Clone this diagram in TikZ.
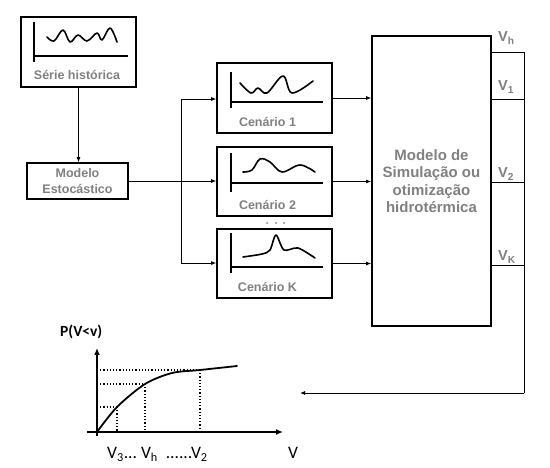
\documentclass[tikz,border=0pt]{standalone}
\usepackage{fontspec}
\setmainfont{Liberation Sans}
\newfontfamily\calfont{Carlito}
\usetikzlibrary{arrows.meta}
\definecolor{txt}{HTML}{808080}
\begin{document}
\begin{tikzpicture}[x=1pt,y=-1pt,
  box/.style={draw, line width=1.7pt, rectangle, inner sep=0pt},
  lbl/.style={text=txt, font=\fontsize{12.5}{16}\selectfont\bfseries, align=center, inner sep=0pt},
  vlbl/.style={text=txt, font=\fontsize{14.5}{16}\selectfont\bfseries, anchor=base west, inner sep=0pt},
  conn/.style={line width=0.8pt},
  arr/.style={conn, -{Latex[length=5pt,width=4pt]}},
  wave/.style={line width=1.6pt, line cap=round, line join=round},
  ax/.style={line width=1.6pt},
  axarr/.style={ax, -{Latex[length=7pt,width=6pt]}},
  dot/.style={line width=1.2pt, dotted}
]
\useasboundingbox (0,0) rectangle (550,468);

% Serie historica
\node[box, minimum width=115pt, minimum height=70pt] (serie) at (78.5,52) {};
\draw[ax] (34,22) -- (34,62);
\draw[ax] (34,56) -- (128,56);
\draw[wave] plot[smooth, tension=0.6] coordinates {(47,37) (54,41) (63,30) (70,42) (78,35) (87,41) (97,33) (102,40) (110,28) (117,42)};
\node[lbl] (tserie) at (77,75) {Série histórica};

% Modelo estocastico
\node[box, minimum width=101pt, minimum height=36pt, lbl, text=txt] (modelo) at (77.5,181) {Modelo\\Estocástico};

% Cenarios
\node[box, minimum width=115pt, minimum height=70pt] (c1) at (274.5,98) {};
\node[box, minimum width=115pt, minimum height=69pt] (c2) at (274.5,181.5) {};
\node[box, minimum width=115pt, minimum height=69pt] (ck) at (274.5,263.5) {};

\draw[ax] (231,72) -- (231,108);
\draw[ax] (231,102) -- (323,102);
\draw[wave] plot[smooth, tension=0.6] coordinates {(240,83) (251,93) (258,88) (267,93) (283,76) (292,93) (313,81)};
\node[lbl] (tc1) at (267.5,122) {Cenário 1};

\draw[ax] (231,153) -- (231,192);
\draw[ax] (231,183) -- (323,183);
\draw[wave] plot[smooth, tension=0.6] coordinates {(243,172) (252,170) (260,159) (270,162) (282,172) (300,165) (315,172)};
\node[lbl] (tc2) at (267.5,205) {Cenário 2};

\fill[txt] (267,223) circle (1pt) (276,223) circle (1pt) (284,223) circle (1pt);

\draw[ax] (231,233) -- (231,273);
\draw[ax] (231,267) -- (323,267);
\draw[wave] plot[smooth, tension=0.5] coordinates {(243,257) (262,254) (270,250) (276,235) (284,250) (298,248) (315,258)};
\node[lbl] (tck) at (267.5,287) {Cenário K};

% Big model
\node[box, minimum width=119pt, minimum height=290pt, text=txt, font=\fontsize{15}{17.5}\selectfont\bfseries, align=center] (sim) at (431.5,181) {Modelo de\\Simulação ou\\otimização\\hidrotérmica};

% Connectors left
\coordinate (j1) at (181,99);
\coordinate (j2) at (181,181);
\coordinate (jk) at (181,263);
\draw[arr] (serie.south) -- (serie.south |- modelo.north);
\draw[conn] (modelo.east) -- (modelo.east -| j2);
\draw[conn] (j1) -- (jk);
\draw[arr] (j1) -- (j1 -| c1.west);
\draw[arr] (j2) -- (j2 -| c2.west);
\draw[arr] (jk) -- (jk -| ck.west);
\draw[arr] (c1.east |- 0,98) -- (sim.west |- 0,98);
\draw[arr] (c2.east) -- (c2.east -| sim.west);
\draw[arr] (ck.east) -- (ck.east -| sim.west);

% Outputs right
\coordinate (oh) at (524,52);
\coordinate (o1) at (524,99);
\coordinate (o2) at (524,182);
\coordinate (ok) at (524,265);
\coordinate (ob) at (524,393);
\coordinate (fb) at (300,393);
\draw[conn] (sim.east |- oh) -- (oh);
\draw[conn] (sim.east |- o1) -- (o1);
\draw[conn] (sim.east |- o2) -- (o2);
\draw[conn] (sim.east |- ok) -- (ok);
\draw[conn] (oh) -- (ob);
\draw[arr] (ob) -- (fb);
\node[vlbl] (lh) at (498,42) {V\textsubscript{h}};
\node[vlbl] (l1) at (498,91) {V\textsubscript{1}};
\node[vlbl] (l2) at (498,178) {V\textsubscript{2}};
\node[vlbl] (lk) at (498,261) {V\textsubscript{K}};

% Distribution chart
\draw[dot] (97,370) -- (200,370);
\draw[dot] (97,384) -- (145,384);
\draw[dot] (97,407) -- (117,407);
\draw[dot] (117,407) -- (117,432);
\draw[dot] (145,384) -- (145,432);
\draw[dot] (200,370) -- (200,432);
\draw[axarr] (97,436) -- (97,348);
\draw[axarr] (87,432) -- (283,432);
\draw[wave, line width=1.8pt] plot[smooth, tension=0.5] coordinates {(97,432) (117,407) (145,384) (172,373) (200,370) (237,366)};
\node[font=\calfont\fontsize{15.5}{17}\selectfont\bfseries, anchor=base west, inner sep=0pt] (py) at (60,337) {P(V<v)};
\node[font=\calfont\fontsize{17.5}{19}\selectfont, anchor=base west, inner sep=0pt] (px) at (107,459) {V\textsubscript{3}...\ V\textsubscript{h}\ \ ......V\textsubscript{2}};
\node[font=\calfont\fontsize{17.5}{19}\selectfont, anchor=base west, inner sep=0pt] (pv) at (288,459) {V};
\end{tikzpicture}
\end{document}
